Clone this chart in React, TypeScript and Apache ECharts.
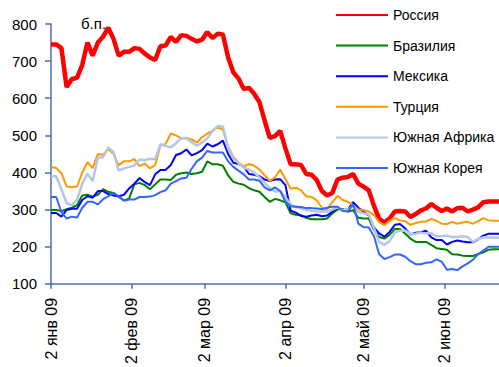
import React, { useEffect, useRef } from "react";
import * as echarts from "echarts";

const days = [
  0, 2, 4, 6, 8, 10, 12, 14, 16, 18, 20, 22, 24, 26, 28, 30, 32, 34, 36, 38,
  40, 42, 44, 46, 48, 50, 52, 54, 56, 58, 60, 62, 64, 66, 68, 70, 72, 74, 76, 78,
  80, 82, 84, 86, 88, 90, 92, 94, 96, 98, 100, 102, 104, 106, 108, 110, 112, 114, 116, 118,
  120, 122, 124, 126, 128, 130, 132, 134, 136, 138, 140, 142, 144, 146, 148, 150, 152, 154, 156, 158,
  160, 162, 164, 166, 168, 170, 172,
];

const tickDays = [0, 31, 59, 90, 120, 151];
const tickLabels = ["2 янв 09", "2 фев 09", "2 мар 09", "2 апр 09", "2 май 09", "2 июн 09"];

const russia = [
  745, 745, 735, 630, 652, 655, 690, 750, 715, 750, 766, 790, 760, 715, 725, 725, 735, 733, 720, 710,
  703, 740, 742, 765, 752, 770, 768, 760, 753, 758, 778, 762, 774, 772, 710, 670, 653, 625, 628, 612,
  590, 540, 493, 498, 512, 465, 422, 422, 420, 396, 394, 380, 350, 338, 345, 381, 386, 388, 396, 370,
  362, 352, 310, 275, 265, 276, 295, 296, 295, 280, 288, 298, 303, 315, 305, 296, 303, 295, 304, 305,
  295, 300, 306, 320, 322, 322, 322,
];
const brazil = [
  299, 299, 296, 301, 305, 312, 338, 340, 335, 340, 355, 348, 345, 334, 325, 330, 368, 372, 366, 355,
  368, 381, 381, 380, 394, 398, 400, 396, 398, 402, 430, 422, 422, 418, 392, 375, 370, 367, 358, 352,
  348, 334, 321, 329, 325, 320, 290, 286, 285, 278, 274, 274, 274, 276, 290, 300, 302, 295, 298, 278,
  276, 276, 245, 226, 222, 232, 248, 248, 235, 222, 213, 213, 213, 205, 196, 194, 192, 180, 179, 176,
  175, 175, 180, 185, 192, 193, 193,
];
const mexico = [
  291, 291, 281, 299, 302, 302, 326, 336, 332, 350, 350, 342, 338, 336, 340, 357, 370, 385, 374, 366,
  395, 407, 407, 420, 447, 452, 462, 446, 452, 460, 478, 470, 476, 486, 450, 426, 423, 416, 396, 394,
  390, 381, 377, 381, 382, 366, 297, 292, 283, 281, 284, 286, 282, 284, 294, 306, 298, 300, 320, 305,
  294, 284, 252, 236, 227, 240, 259, 261, 249, 233, 238, 239, 243, 225, 218, 218, 206, 213, 217, 214,
  212, 212, 220, 230, 235, 235, 235,
];
const turkey = [
  415, 412, 398, 362, 360, 362, 400, 428, 412, 450, 448, 463, 450, 420, 430, 430, 436, 417, 424, 411,
  420, 472, 477, 505, 500, 492, 493, 489, 481, 495, 505, 512, 523, 515, 470, 442, 427, 416, 423, 418,
  408, 393, 377, 387, 408, 382, 356, 359, 352, 336, 334, 325, 305, 301, 320, 337, 326, 321, 312, 300,
  299, 295, 285, 266, 258, 270, 277, 271, 269, 259, 264, 267, 268, 275, 270, 262, 261, 267, 262, 265,
  267, 262, 269, 277, 271, 270, 270,
];
const southAfrica = [
  390, 390, 355, 317, 312, 326, 370, 397, 377, 440, 442, 467, 455, 405, 411, 415, 419, 435, 433, 437,
  436, 476, 471, 468, 479, 492, 493, 481, 472, 481, 492, 512, 525, 524, 465, 438, 425, 413, 408, 400,
  387, 372, 358, 349, 350, 333, 314, 307, 303, 299, 297, 295, 295, 295, 300, 306, 298, 300, 310, 294,
  290, 287, 250, 213, 205, 215, 239, 243, 244, 234, 235, 238, 236, 236, 228, 228, 230, 226, 226, 228,
  226, 213, 221, 225, 225, 224, 224,
];
const korea = [
  334, 334, 293, 276, 281, 279, 305, 321, 321, 314, 328, 336, 345, 336, 324, 327, 327, 334, 334, 335,
  339, 347, 352, 370, 377, 384, 386, 410, 430, 440, 458, 454, 454, 454, 430, 415, 405, 395, 381, 381,
  378, 360, 352, 360, 350, 322, 309, 308, 307, 304, 304, 303, 301, 305, 308, 308, 296, 295, 315, 262,
  253, 252, 228, 180, 167, 172, 179, 179, 173, 161, 153, 153, 157, 158, 166, 160, 138, 140, 137, 147,
  155, 165, 180, 190, 200, 200, 200,
];

const seriesNames = ["Россия", "Бразилия", "Мексика", "Турция", "Южная Африка", "Южная Корея"];
const seriesValues = [russia, brazil, mexico, turkey, southAfrica, korea];
const seriesColors = ["#ff0000", "#008000", "#0000ff", "#ff9900", "#b4c7e7", "#3366ff"];
const seriesWidths = [4.5, 2, 2, 2, 2.5, 2];

const FONT = "Arial, 'Liberation Sans', sans-serif";
const AXIS_COLOR = "#4f6fb0";

export default function App() {
  const ref = useRef<HTMLDivElement>(null);
  useEffect(() => {
    if (!ref.current) return;
    const chart = echarts.init(ref.current, undefined, { renderer: "svg" });
    const option: any = {
      animation: false,
      backgroundColor: "#ffffff",
      textStyle: { fontFamily: FONT },
      grid: { left: 51, right: 0, top: 24, bottom: 71, containLabel: false },
      legend: {
        orient: "vertical",
        left: 330,
        top: 3,
        itemWidth: 52,
        itemHeight: 14,
        itemGap: 16.6,
        itemTextGap: 6,
        itemStyle: { opacity: 0 },
        textStyle: { fontFamily: FONT, fontSize: 14, color: "#000" },
        data: seriesNames,
      },
      xAxis: {
        type: "value",
        min: 0,
        max: 172,
        splitLine: { show: false },
        axisLine: { show: true, lineStyle: { color: AXIS_COLOR, width: 1.5 } },
        axisTick: {
          show: true,
          length: 5,
          customValues: tickDays,
          lineStyle: { color: AXIS_COLOR, width: 1.5 },
        },
        axisLabel: {
          customValues: tickDays,
          rotate: 90,
          margin: 14,
          fontFamily: FONT,
          fontSize: 16,
          color: "#000",
          formatter: (v: number) => {
            const i = tickDays.indexOf(v);
            return i >= 0 ? tickLabels[i] : "";
          },
        },
      },
      yAxis: {
        type: "value",
        min: 100,
        max: 800,
        interval: 100,
        splitLine: { show: false },
        axisLine: { show: true, lineStyle: { color: AXIS_COLOR, width: 1.5 } },
        axisTick: { show: true, length: 6, lineStyle: { color: AXIS_COLOR, width: 1.5 } },
        axisLabel: { margin: 14, fontFamily: FONT, fontSize: 15, color: "#000" },
      },
      graphic: [
        {
          type: "text",
          left: 81,
          top: 16,
          style: { text: "б.п.", font: `15px ${FONT}`, fill: "#000" },
        },
      ],
      series: seriesNames.map((name, i) => ({
        name,
        type: "line",
        data: days.map((d, j) => [d, seriesValues[i][j]]),
        symbol: "none",
        smooth: false,
        color: seriesColors[i],
        lineStyle: { color: seriesColors[i], width: seriesWidths[i] },
        z: 2,
      })),
    };
    chart.setOption(option);
    return () => chart.dispose();
  }, []);
  return (
    <div
      ref={ref}
      style={{ position: "fixed", left: 0, top: 0, width: 499, height: 367 }}
    />
  );
}
